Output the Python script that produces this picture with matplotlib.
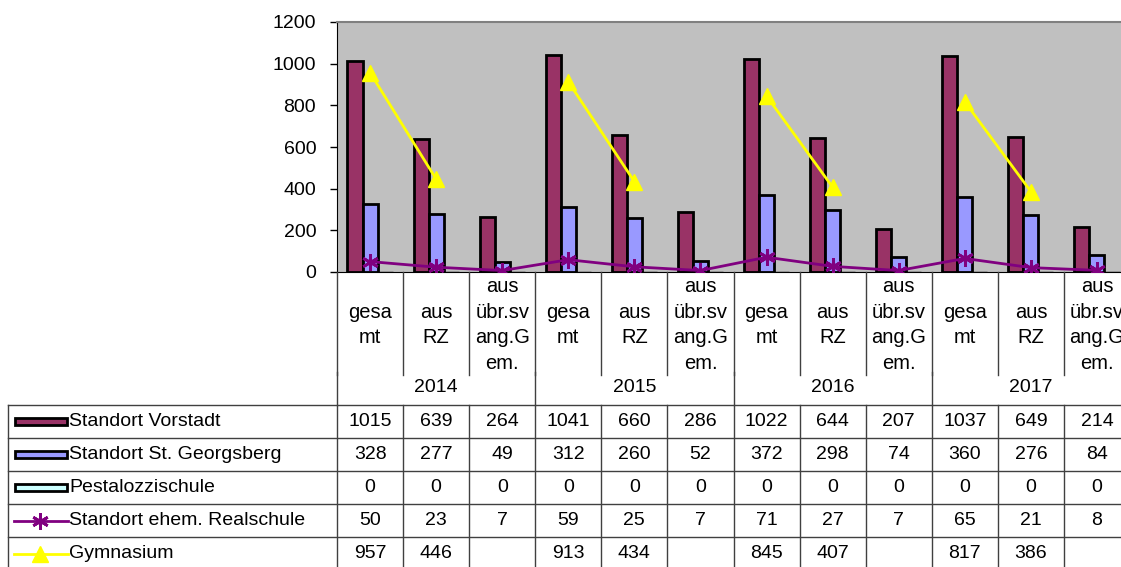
import matplotlib
matplotlib.use("Agg")
import matplotlib.pyplot as plt
import matplotlib.transforms as mtransforms
from matplotlib.patches import Rectangle
from matplotlib.lines import Line2D

plt.rcParams['font.family'] = ['Liberation Sans', 'DejaVu Sans']

years = ["2014", "2015", "2016", "2017"]
subcats = ["gesa\nmt", "aus\nRZ", "aus\nübr.sv\nang.G\nem."]
series_names = ["Standort Vorstadt", "Standort St. Georgsberg", "Pestalozzischule",
                "Standort ehem. Realschule", "Gymnasium"]
vorstadt = [1015, 639, 264, 1041, 660, 286, 1022, 644, 207, 1037, 649, 214]
georgsberg = [328, 277, 49, 312, 260, 52, 372, 298, 74, 360, 276, 84]
pestalozzi = [0, 0, 0, 0, 0, 0, 0, 0, 0, 0, 0, 0]
realschule = [50, 23, 7, 59, 25, 7, 71, 27, 7, 65, 21, 8]
gymnasium = [957, 446, None, 913, 434, None, 845, 407, None, 817, 386, None]

W, H = 1121, 567
FS = 14

fig = plt.figure(figsize=(W / 100, H / 100), dpi=100)
ax = fig.add_axes([337 / W, 1 - 272 / H, (1130 - 337) / W, 250 / H])
ax.set_facecolor("#C0C0C0")

n = len(vorstadt)
x = list(range(n))
bw = 0.228

ax.bar([i - bw for i in x], vorstadt, bw, color="#993366", edgecolor="black", lw=2, zorder=2)
ax.bar(x, georgsberg, bw, color="#9999FF", edgecolor="black", lw=2, zorder=2)
ax.bar([i + bw for i in x], pestalozzi, bw, color="#CCFFFF", edgecolor="black", lw=1.0, zorder=2)

ax.plot(x, realschule, color="#800080", lw=2, marker=(6, 2, 0), ms=12, mew=2, zorder=3)
for g in range(4):
    xs = [3 * g, 3 * g + 1]
    ax.plot(xs, [gymnasium[k] for k in xs], color="#FFFF00", lw=2, marker="^", ms=12, zorder=4)

ax.set_xlim(-0.5, n - 0.5)
ax.set_ylim(0, 1200)
ax.set_yticks(range(0, 1201, 200))
ax.set_xticks([])
ax.tick_params(axis="y", labelsize=FS, length=5, width=1, pad=10)
for s in ["top", "right"]:
    ax.spines[s].set_color("#808080")
ax.spines["left"].set_color("black")
ax.spines["bottom"].set_color("black")
ax.spines["top"].set_linewidth(1.5)

# table below the chart
tr = mtransforms.blended_transform_factory(ax.transData, fig.transFigure)
def fy(py):
    return 1 - py / H

def fx(px):
    return px / W

lc = "#404040"
for i in range(n):
    ax.text(i, fy(325), subcats[i % 3], transform=tr, ha="center", va="center",
            fontsize=14.5, linespacing=1.45, clip_on=False)
for b in range(n + 1):
    fig.add_artist(Line2D([b - 0.5, b - 0.5], [fy(272), fy(375)], transform=tr, color=lc, lw=1))
    fig.add_artist(Line2D([b - 0.5, b - 0.5], [fy(405), fy(570)], transform=tr, color=lc, lw=1))
for b in range(0, n + 1, 3):
    fig.add_artist(Line2D([b - 0.5, b - 0.5], [fy(372), fy(405)], transform=tr, color=lc, lw=1))
for g, yr in enumerate(years):
    ax.text(3 * g + 1, fy(388), yr, transform=tr, ha="center", va="center", fontsize=FS)

rows = [vorstadt, georgsberg, pestalozzi, realschule, gymnasium]
row_top = [405, 438, 471, 504, 537]
rh = 33
fig.add_artist(Line2D([fx(8), fx(8)], [fy(405), fy(570)], color=lc, lw=1))
for r, vals in enumerate(rows):
    top = row_top[r]
    cy = top + rh / 2
    fig.add_artist(Line2D([fx(8), fx(1125)], [fy(top), fy(top)], color=lc, lw=1))
    for i, v in enumerate(vals):
        if v is not None:
            ax.text(i, fy(cy), str(v), transform=tr, ha="center", va="center", fontsize=FS)
    fig.text(fx(69), fy(cy), series_names[r], ha="left", va="center", fontsize=FS)

key_fill = ["#993366", "#9999FF", "#CCFFFF"]
for r in range(3):
    cy = row_top[r] + rh / 2
    fig.add_artist(Rectangle((fx(15), fy(cy + 3.5)), fx(52), 7 / H, facecolor=key_fill[r],
                             edgecolor="black", lw=2, transform=fig.transFigure))
cy = row_top[3] + rh / 2
fig.add_artist(Line2D([fx(14), fx(68)], [fy(cy), fy(cy)], color="#800080", lw=2))
fig.add_artist(Line2D([fx(40)], [fy(cy)], color="#800080", marker=(6, 2, 0), ms=12, mew=2))
cy = row_top[4] + rh / 2
fig.add_artist(Line2D([fx(14), fx(68)], [fy(cy), fy(cy)], color="#FFFF00", lw=2))
fig.add_artist(Line2D([fx(40)], [fy(cy)], color="#FFFF00", marker="^", ms=12))

fig.savefig("out.png", dpi=100)
